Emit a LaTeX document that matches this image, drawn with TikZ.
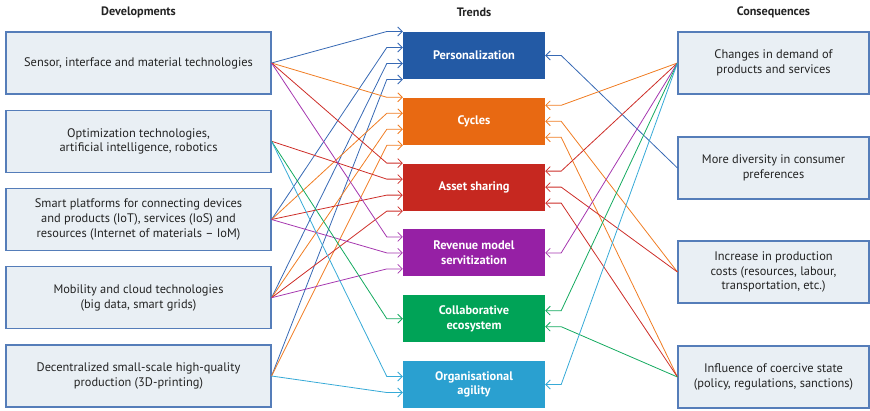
\documentclass[tikz,border=0pt]{standalone}
\usepackage{fontspec}
\setmainfont{PT Sans}
\usetikzlibrary{arrows.meta,calc}
\definecolor{boxfill}{RGB}{233,239,244}
\definecolor{boxline}{RGB}{85,125,185}
\definecolor{txt}{RGB}{35,35,35}
\definecolor{fblue}{RGB}{35,90,165}
\definecolor{forange}{RGB}{232,105,18}
\definecolor{fred}{RGB}{198,40,32}
\definecolor{fpurple}{RGB}{150,32,165}
\definecolor{fgreen}{RGB}{0,163,87}
\definecolor{fcyan}{RGB}{42,160,208}
\definecolor{lblue}{RGB}{55,105,180}
\definecolor{lorange}{RGB}{240,125,35}
\definecolor{lred}{RGB}{205,45,40}
\definecolor{lpurple}{RGB}{165,55,175}
\definecolor{lgreen}{RGB}{20,170,95}
\definecolor{lcyan}{RGB}{55,170,215}
\newcommand\inlink[4]{\draw[linkarrow,#1] (#2.east) -- ($(#3.west)+(-16,#4)$) -- ($(#3.west)+(0,#4)$);}
\newcommand\outlink[4]{\draw[linkarrow,#1] (#2.west) -- ($(#3.east)+(16,#4)$) -- ($(#3.east)+(0,#4)$);}
\begin{document}
\begin{tikzpicture}[x=1pt,y=-1pt,
  font=\fontsize{12.4}{14.6}\selectfont,
  sidebox/.style={draw=boxline, fill=boxfill, line width=1.1pt, minimum height=62pt, align=center, text=txt, inner sep=2pt},
  devbox/.style={sidebox, minimum width=265pt},
  conbox/.style={sidebox, minimum width=191pt},
  trendbox/.style={minimum width=142pt, minimum height=47pt, inner sep=0pt, text=white, align=center, font=\fontsize{12.4}{14.6}\selectfont\bfseries},
  heading/.style={text=txt, font=\fontsize{12.2}{14}\selectfont\bfseries},
  linkarrow/.style={line width=0.8pt, -{Straight Barb[length=4.5pt,width=9pt]}}
]
\useasboundingbox (0,0) rectangle (870,410);

\node[heading] (h1) at (138.5,12) {Developments};
\node[heading] (h2) at (474,12) {Trends};
\node[heading] (h3) at (773.5,12) {Consequences};

\node[devbox] (d1) at (138.5,63) {Sensor, interface and material technologies};
\node[devbox] (d2) at (138.5,141.25) {Optimization technologies,\\artificial intelligence, robotics};
\node[devbox] (d3) at (138.5,219.5) {Smart platforms for connecting devices\\and products (IoT), services (IoS) and\\resources (Internet of materials – IoM)};
\node[devbox] (d4) at (138.5,297.75) {Mobility and cloud technologies\\(big data, smart grids)};
\node[devbox] (d5) at (138.5,376) {Decentralized small-scale high-quality\\production (3D-printing)};

\node[trendbox, fill=fblue] (t1) at (474,55.5) {Personalization};
\node[trendbox, fill=forange] (t2) at (474,121.3) {Cycles};
\node[trendbox, fill=fred] (t3) at (474,187.1) {Asset sharing};
\node[trendbox, fill=fpurple] (t4) at (474,252.9) {Revenue model\\servitization};
\node[trendbox, fill=fgreen] (t5) at (474,318.7) {Collaborative\\ecosystem};
\node[trendbox, fill=fcyan] (t6) at (474,384.5) {Organisational\\agility};

\node[conbox] (c1) at (773.5,63) {Changes in demand of\\products and services};
\node[conbox] (c2) at (773.5,168) {More diversity in consumer\\preferences};
\node[conbox] (c3) at (773.5,272) {Increase in production\\costs (resources, labour,\\transportation, etc.)};
\node[conbox] (c4) at (773.5,377) {Influence of coercive state\\(policy, regulations, sanctions)};

% developments -> trends
\inlink{lblue}{d1}{t1}{-24}
\inlink{lblue}{d3}{t1}{-8}
\inlink{lblue}{d4}{t1}{8}
\inlink{lblue}{d5}{t1}{24}
\inlink{lorange}{d1}{t2}{-24}
\inlink{lorange}{d3}{t2}{-8}
\inlink{lorange}{d4}{t2}{8}
\inlink{lorange}{d5}{t2}{24}
\inlink{lred}{d1}{t3}{-24}
\inlink{lred}{d2}{t3}{-8}
\inlink{lred}{d3}{t3}{8}
\inlink{lred}{d4}{t3}{24}
\inlink{lpurple}{d1}{t4}{-16}
\inlink{lpurple}{d3}{t4}{0}
\inlink{lpurple}{d4}{t4}{16}
\inlink{lgreen}{d2}{t5}{0}
\inlink{lcyan}{d2}{t6}{-8}
\inlink{lcyan}{d5}{t6}{8}

% consequences -> trends
\outlink{lblue}{c2}{t1}{0}
\outlink{lorange}{c1}{t2}{-16}
\outlink{lorange}{c3}{t2}{0}
\outlink{lorange}{c4}{t2}{16}
\outlink{lred}{c1}{t3}{-16}
\outlink{lred}{c3}{t3}{0}
\outlink{lred}{c4}{t3}{16}
\outlink{lpurple}{c1}{t4}{0}
\outlink{lgreen}{c1}{t5}{-8}
\outlink{lgreen}{c4}{t5}{8}
\outlink{lcyan}{c1}{t6}{0}
\end{tikzpicture}
\end{document}
